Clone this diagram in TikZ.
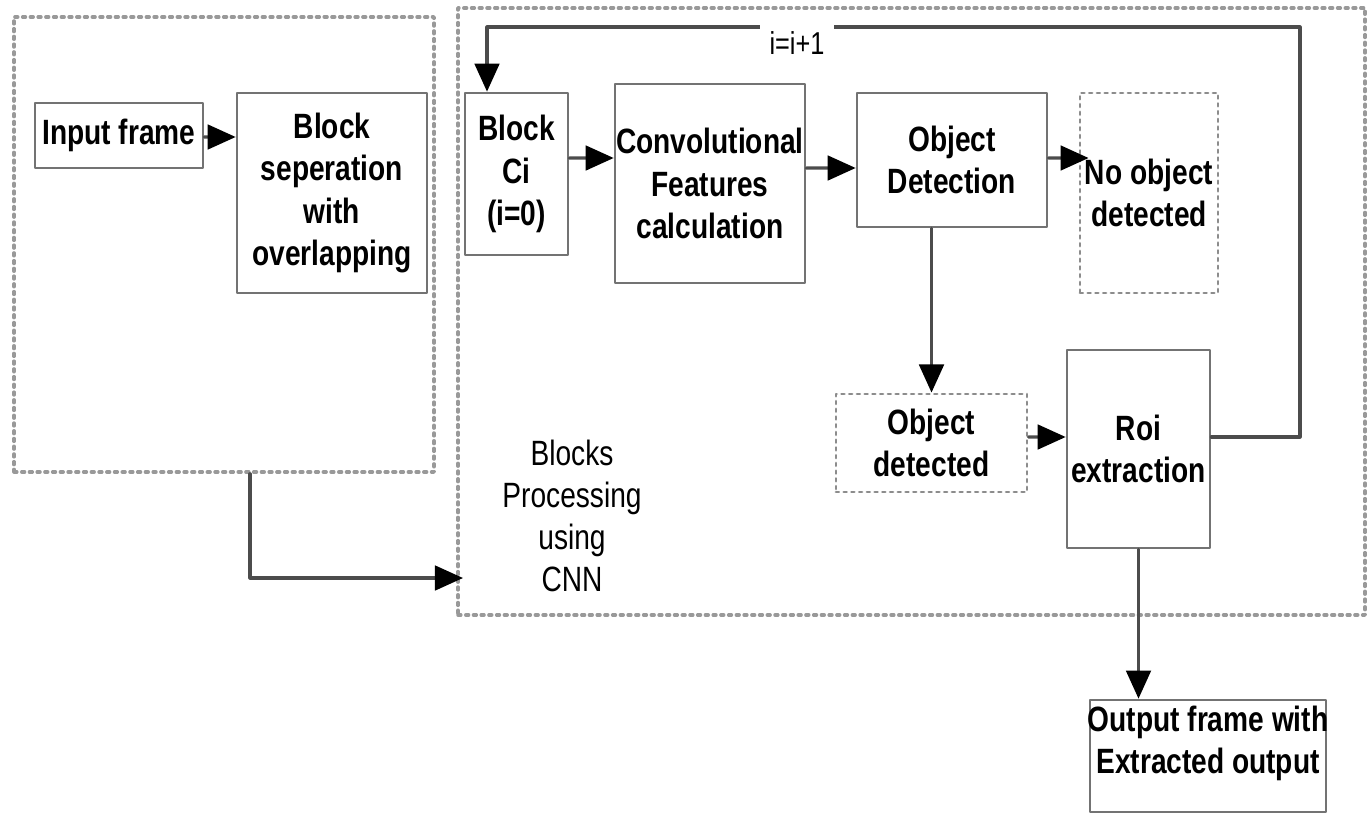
\documentclass[tikz,border=0pt]{standalone}
\usepackage{fontspec}
\setmainfont[FakeStretch=0.8]{Liberation Sans}
\usetikzlibrary{arrows.meta}

\begin{document}
\begin{tikzpicture}[line cap=round,line join=round,
  box/.style={draw=black!55,line width=0.75pt,font=\bfseries,align=center,inner sep=0pt},
  dotbox/.style={draw=black!45,dash pattern=on 0.8pt off 1.4pt,line width=0.8pt,font=\bfseries,align=center,inner sep=0pt},
  frame/.style={draw=black!40,dash pattern=on 0.8pt off 1.4pt,line width=1pt,inner sep=0pt},
  arr/.style={draw=black!70,line width=0.9pt,-{Triangle[length=8pt,width=7pt,color=black]}}]

% page size
\useasboundingbox (0,0) rectangle (13.72,8.16);

% outer frames
\node[frame,minimum width=4.20cm,minimum height=4.55cm] (leftbox) at (2.24,5.715) {};
\node[frame,minimum width=9.07cm,minimum height=6.07cm] (rightbox) at (9.115,5.045) {};

% left part
\node[box,minimum width=1.68cm,minimum height=0.65cm] (inframe) at (1.19,6.805) {Input frame};
\node[box,minimum width=1.90cm,minimum height=2.00cm] (blocksep) at (3.32,6.23) {Block\\seperation\\with\\overlapping};

% CNN part
\node[box,minimum width=1.03cm,minimum height=1.62cm] (blockci) at (5.165,6.42) {Block\\Ci\\(i=0)};
\node[box,minimum width=1.90cm,minimum height=1.99cm] (convfeat) at (7.10,6.325) {Convolutional\\Features\\calculation};
\node[box,minimum width=1.90cm,minimum height=1.34cm] (objdet) at (9.52,6.56) {Object\\Detection};
\node[dotbox,minimum width=1.38cm,minimum height=2.00cm] (noobj) at (11.49,6.23) {No object\\detected};
\node[dotbox,minimum width=1.91cm,minimum height=0.98cm] (objfound) at (9.315,3.73) {Object\\detected};
\node[box,minimum width=1.43cm,minimum height=1.98cm] (roi) at (11.385,3.67) {Roi\\extraction};
\node[align=center] (cnnlbl) at (5.72,3.00) {Blocks\\Processing\\using\\CNN};

% output
\node[box,minimum width=2.36cm,minimum height=1.12cm,
  label={[font=\bfseries,align=center,yshift=1.3mm]center:{Output frame with\\Extracted output}}] (outframe) at (12.08,0.60) {};

% loop corners
\coordinate (looptop) at (13.00,7.89);
\coordinate (loopend) at (4.87,7.89);
\coordinate (cnnin) at (4.63,2.38);

% connectors
\draw[arr] ([yshift=-0.15mm]inframe.east) -- ([yshift=5.6mm]blocksep.west);
\draw[arr] ([xshift=2.6mm]leftbox.south) |- (cnnin);
\draw[arr] ([yshift=1.6mm]blockci.east) -- ([yshift=2.55mm]convfeat.west);
\draw[arr] ([yshift=1.55mm]convfeat.east) -- ([yshift=-0.8mm]objdet.west);
\draw[arr] ([yshift=0.2mm]objdet.east) -- ([yshift=3.5mm,xshift=1mm]noobj.west);
\draw[arr] (objfound.north |- objdet.south) -- (objfound.north);
\draw[arr] ([yshift=0.6mm]objfound.east) -- ([yshift=1.2mm]roi.west);
\draw[arr] (roi.south) -- (roi.south |- outframe.north);

% i=i+1 loop back to the block
\draw[arr] ([yshift=1.2mm]roi.east) -| (looptop) -- (loopend) -- (loopend |- blockci.north);
\node[fill=white,inner sep=1mm,font=\small] (incr) at (7.97,7.73) {i=i+1};

\end{tikzpicture}
\end{document}
